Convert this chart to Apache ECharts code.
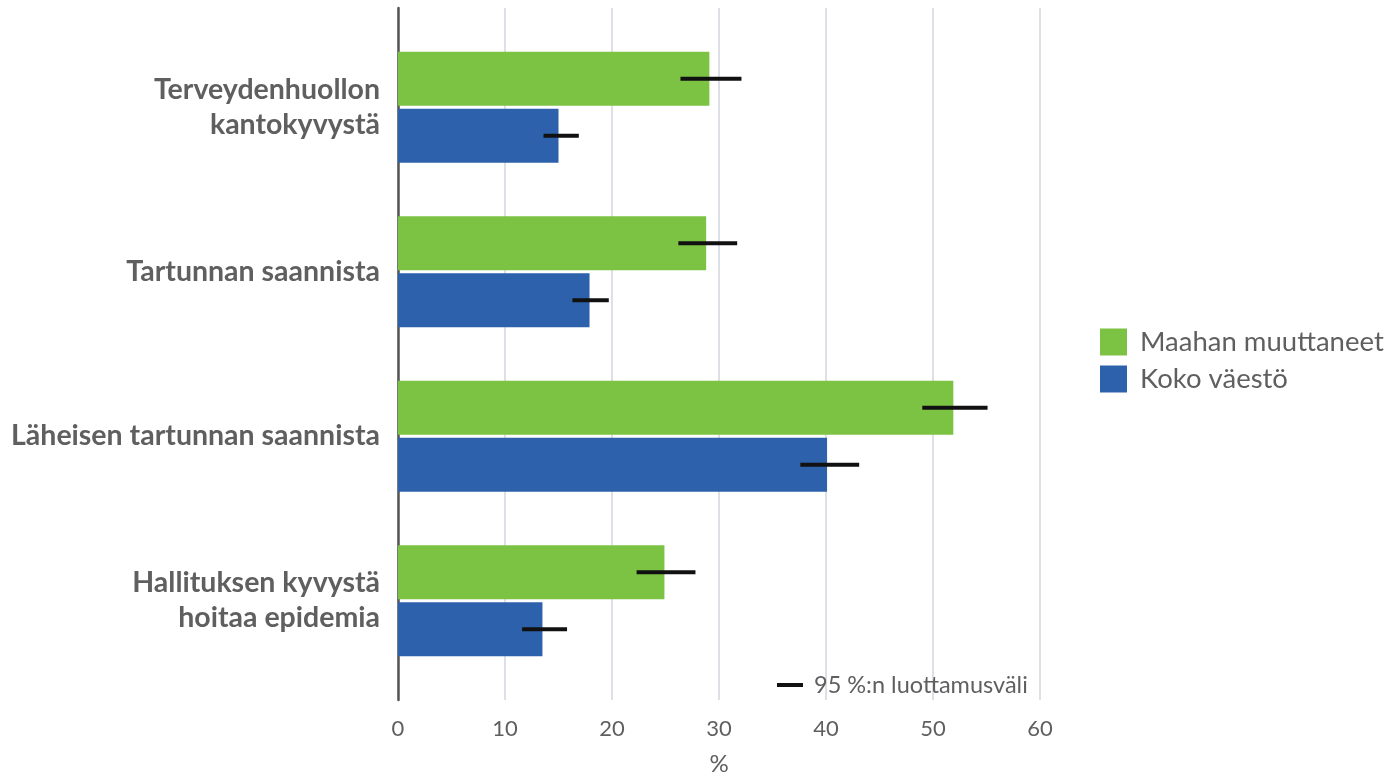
<!DOCTYPE html>
<html>
<head>
<meta charset="utf-8">
<script src="https://cdn.jsdelivr.net/npm/echarts@6/dist/echarts.min.js"></script>
<style>
html,body{margin:0;padding:0;background:#fff;}
#chart{width:1390px;height:773px;}
</style>
</head>
<body>
<div id="chart"></div>
<script>
var categories = ['Terveydenhuollon\nkantokyvystä', 'Tartunnan saannista', 'Läheisen tartunnan saannista', 'Hallituksen kyvystä\nhoitaa epidemia'];
var seriesNames = ['Maahan muuttaneet', 'Koko väestö'];
var immigrants = [29.1, 28.8, 51.9, 24.9];
var immLow = [26.4, 26.2, 49.0, 22.3];
var immHigh = [32.1, 31.7, 55.1, 27.8];
var total = [15.0, 17.9, 40.1, 13.5];
var totLow = [13.6, 16.3, 37.6, 11.6];
var totHigh = [16.9, 19.7, 43.1, 15.8];
var ciName = '95 %:n luottamusväli';
var xTicks = [0, 10, 20, 30, 40, 50, 60];

var FONT = 'Lato';
var TEXT = '#5f5f5f';
var BAR_W = 54;
var BAR_GAP = 0.06;

var ciData = [];
for (var i = 0; i < categories.length; i++) {
  ciData.push([immLow[i], immHigh[i], i, -1]);
  ciData.push([totLow[i], totHigh[i], i, 1]);
}

var chart = echarts.init(document.getElementById('chart'), null, {renderer: 'canvas'});
chart.setOption({
  animation: false,
  textStyle: {fontFamily: FONT},
  grid: [
    {left: 398, top: 8, width: 642, height: 692, containLabel: false, outerBoundsMode: 'none'},
    {left: 398, top: 25, width: 642, height: 658, containLabel: false, outerBoundsMode: 'none'}
  ],
  legend: [
    {
      data: seriesNames,
      orient: 'vertical',
      left: 1100, top: 328,
      itemWidth: 27, itemHeight: 27, itemGap: 9,
      icon: 'rect',
      padding: 0,
      textStyle: {fontFamily: FONT, fontSize: 27.5, lineHeight: 27, color: TEXT, padding: [0, 0, 0, 8]}
    },
    {
      data: [ciName],
      left: 777, top: 673,
      itemWidth: 26, itemHeight: 4,
      icon: 'rect',
      padding: 0,
      textStyle: {fontFamily: FONT, fontSize: 23.5, color: TEXT, padding: [0, 0, 0, 6]}
    }
  ],
  xAxis: [
    {
      gridIndex: 0, type: 'value', position: 'bottom', offset: 10,
      min: xTicks[0], max: xTicks[xTicks.length - 1], interval: 10,
      axisLine: {show: false}, axisTick: {show: false},
      splitLine: {show: true, lineStyle: {color: '#dde1e7', width: 2}},
      axisLabel: {fontFamily: FONT, fontSize: 22, color: TEXT, margin: 8},
      name: '%', nameLocation: 'middle', nameGap: 42,
      nameTextStyle: {fontFamily: FONT, fontSize: 24, color: TEXT}
    },
    {gridIndex: 1, type: 'value', min: xTicks[0], max: xTicks[xTicks.length - 1], show: false}
  ],
  yAxis: [
    {
      gridIndex: 0, type: 'value', min: 0, max: 1,
      axisLine: {show: true, lineStyle: {color: '#555555', width: 2.5}},
      axisTick: {show: false}, axisLabel: {show: false}, splitLine: {show: false}
    },
    {
      gridIndex: 1, type: 'category', data: categories, inverse: true,
      axisLine: {show: false}, axisTick: {show: false}, splitLine: {show: false},
      axisLabel: {fontFamily: FONT, fontSize: 28.5, fontWeight: 'bold', color: TEXT, margin: 18, lineHeight: 35, align: 'right'}
    }
  ],
  series: [
    {
      name: seriesNames[0], type: 'bar', xAxisIndex: 1, yAxisIndex: 1,
      data: immigrants, barWidth: BAR_W, barGap: (BAR_GAP * 100) + '%',
      itemStyle: {color: '#7cc243'}
    },
    {
      name: seriesNames[1], type: 'bar', xAxisIndex: 1, yAxisIndex: 1,
      data: total, barWidth: BAR_W, barGap: (BAR_GAP * 100) + '%',
      itemStyle: {color: '#2e61ab'}
    },
    {
      name: ciName, type: 'custom', xAxisIndex: 1, yAxisIndex: 1,
      itemStyle: {color: '#111111'},
      data: ciData,
      encode: {x: [0, 1], y: 2},
      renderItem: function (params, api) {
        var lo = api.coord([api.value(0), api.value(2)]);
        var hi = api.coord([api.value(1), api.value(2)]);
        var off = api.value(3) * BAR_W * (1 + BAR_GAP) / 2;
        return {
          type: 'line',
          shape: {x1: lo[0], y1: lo[1] + off, x2: hi[0], y2: hi[1] + off},
          style: {stroke: '#111111', lineWidth: 4}
        };
      },
      z: 5
    }
  ]
});
</script>
</body>
</html>
